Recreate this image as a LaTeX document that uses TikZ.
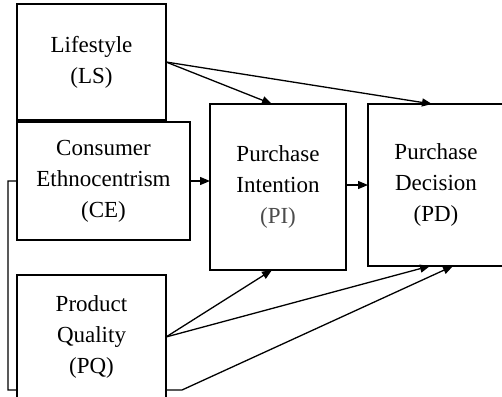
\documentclass[tikz,border=0pt]{standalone}
\usepackage{fontspec}
\setmainfont{Liberation Serif}
\usetikzlibrary{arrows.meta}
\pgfdeclarelayer{background}
\pgfsetlayers{background,main}
\begin{document}
\begin{tikzpicture}[x=1pt,y=-1pt,
  box/.style={draw=black, line width=1.5pt, fill=white, inner sep=0pt, outer sep=0pt,
    align=center, font=\fontsize{23}{31}\selectfont},
  conn/.style={line width=1.3pt, draw=black},
  arr/.style={conn, -{Triangle[length=10pt,width=8pt]}}]
\useasboundingbox (0,0) rectangle (502,396);
\begin{scope}
\clip (0,0) rectangle (502,396);
\node[box, minimum width=149pt, minimum height=116pt] (LS) at (91.5,62) {Lifestyle\\(LS)};
\node[box, minimum width=173pt, minimum height=118pt] (CE) at (103.5,181) {Consumer\\Ethnocentrism\\(CE)};
\node[box, minimum width=149pt, minimum height=124pt] (PQ) at (91.5,337) {Product\\Quality\\(PQ)};
\node[box, minimum width=136pt, minimum height=166pt] (PI) at (278,187) {Purchase\\Intention\\\textcolor{black!70}{(PI)}};
\node[box, minimum width=136pt, minimum height=162pt] (PD) at (436,185) {Purchase\\Decision\\(PD)};
\coordinate (bend) at (182,390);
\begin{pgfonlayer}{background}
\draw[arr] (CE.west) -- ++(-9,0) |- (bend) -- ([xshift=17pt]PD.south);
\end{pgfonlayer}
\draw[arr] (LS.east) -- ([xshift=-6pt]PI.north);
\draw[arr] (LS.east) -- ([xshift=-4pt]PD.north);
\draw[arr] (CE.east) -- (CE.east -| PI.west);
\draw[arr] (PD.west -| PI.east) -- (PD.west);
\draw[arr] (PQ.east) -- ([xshift=-6pt]PI.south);
\draw[arr] (PQ.east) -- ([xshift=-6pt]PD.south);
\end{scope}
\end{tikzpicture}
\end{document}
